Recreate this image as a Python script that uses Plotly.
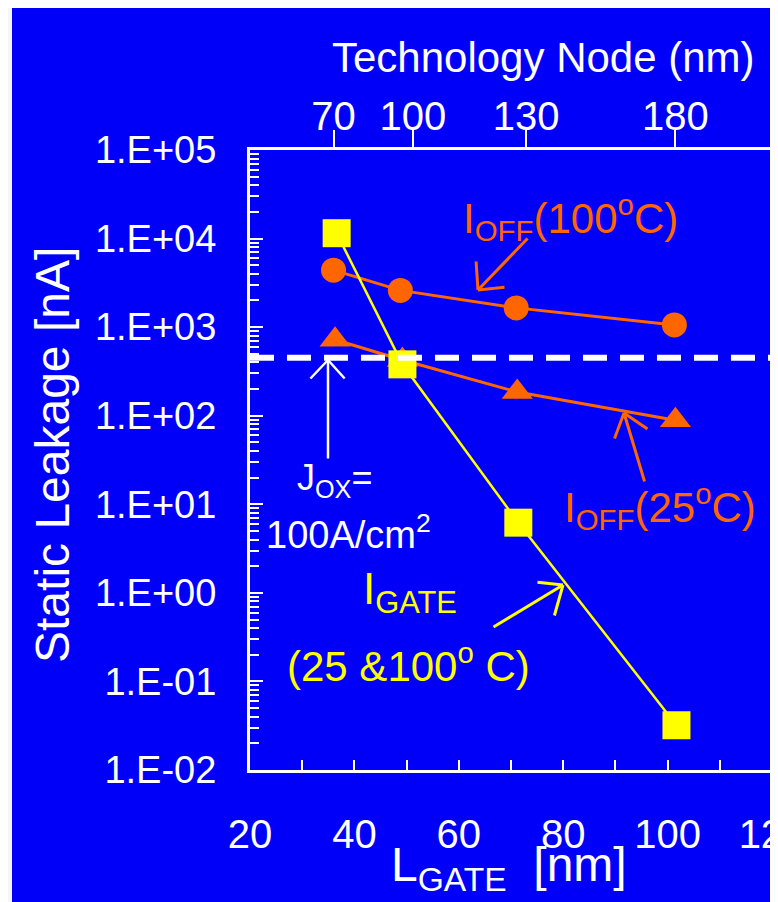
import plotly.graph_objects as go

# ---------------- data ----------------
lgate_igate = [36.6, 49.2, 71.4, 101.7]          # L_GATE [nm]
igate_nA = [11500, 380, 6.2, 0.032]               # I_GATE (25 & 100 C)

lgate_ioff100 = [36.0, 48.8, 71.0, 101.3]
ioff_100c_nA = [4400, 2600, 1650, 1060]           # I_OFF (100 C)

lgate_ioff25 = [36.3, 49.2, 71.2, 101.5]
ioff_25c_nA = [720, 425, 185, 89]                 # I_OFF (25 C)

jox_x = [20, 120]
jox_limit_nA = [450, 450]                         # J_OX = 100 A/cm2 level

y_tick_vals = [1e-2, 1e-1, 1e0, 1e1, 1e2, 1e3, 1e4, 1e5]
y_tick_text = ["1.E-02", "1.E-01", "1.E+00", "1.E+01", "1.E+02",
               "1.E+03", "1.E+04", "1.E+05"]
x_tick_vals = [20, 40, 60, 80, 100, 120]
x_minor_vals = [30, 50, 70, 90, 110]
node_positions = [36.0, 51.2, 72.9, 101.5]       # L_GATE of each node
node_labels = ["70", "100", "130", "180"]

# ---------------- styling ----------------
BLUE = "#0000FA"
ORANGE = "#FF6600"
YELLOW = "#FFFF00"
WHITE = "#FFFFFF"
FONT = "Liberation Sans, Arial, sans-serif"

OFF = 8                    # page body margin
W, H = 770, 894            # figure size (page is 778x902)
PL, PR, PT, PB = 250, 772, 150, 770   # plot-area box in page pixels


def px(xp):
    return (xp - PL) / (PR - PL)


def py(yp):
    return (PB - yp) / (PB - PT)


y_minor_vals = [m * 10 ** e for e in range(-2, 5) for m in range(2, 10)]

fig = go.Figure()

fig.add_trace(go.Scatter(
    x=jox_x, y=jox_limit_nA, mode="lines", xaxis="x2",
    line=dict(color=WHITE, width=6, dash="24px,13px"),
    showlegend=False, hoverinfo="skip"))

fig.add_trace(go.Scatter(
    x=lgate_ioff25, y=ioff_25c_nA, mode="lines+markers",
    line=dict(color=ORANGE, width=3),
    marker=dict(symbol="triangle-up", size=27, color=ORANGE),
    showlegend=False))

fig.add_trace(go.Scatter(
    x=lgate_ioff100, y=ioff_100c_nA, mode="lines+markers",
    line=dict(color=ORANGE, width=3),
    marker=dict(symbol="circle", size=25, color=ORANGE),
    showlegend=False))

fig.add_trace(go.Scatter(
    x=lgate_igate, y=igate_nA, mode="lines+markers",
    line=dict(color=YELLOW, width=2.5),
    marker=dict(symbol="square", size=28, color=YELLOW),
    showlegend=False))

annotations = []


def text(t, xc, yc, size, color, angle=0):
    annotations.append(dict(
        text=t, x=px(xc), y=py(yc), xref="paper", yref="paper",
        xanchor="center", yanchor="middle", showarrow=False,
        textangle=angle, font=dict(family=FONT, size=size, color=color)))


def arrow(tip, ends, color, width):
    for ex, ey in ends:
        annotations.append(dict(
            text="", x=px(tip[0]), y=py(tip[1]), xref="paper", yref="paper",
            ax=ex - tip[0], ay=ey - tip[1], showarrow=True, arrowhead=0,
            arrowwidth=width, arrowcolor=color, standoff=0))


text("Technology Node (nm)", 543, 57, 42, WHITE)
text("Static Leakage [nA]", 52, 455, 48, WHITE, angle=-90)
text("L<sub>GATE</sub>\u00a0\u00a0[nm]", 509, 868, 48, WHITE)
text("I<sub>OFF</sub>(100<sup>o</sup>C)", 570, 217, 42, ORANGE)
text("I<sub>OFF</sub>(25<sup>o</sup>C)", 660, 506, 42, ORANGE)
text("J<sub>OX</sub>=", 334, 480, 36, WHITE)
text("100A/cm<sup>2</sup>", 348, 532, 38, WHITE)
text("I<sub>GATE</sub>", 410, 592, 44, YELLOW)
text("(25 &amp;100<sup>o</sup> C)", 408, 663, 42, YELLOW)

arrow((478, 290), [(529, 237), (476, 260), (506, 287)], ORANGE, 3)
arrow((624, 413), [(645, 483), (614, 440), (649, 430)], ORANGE, 3)
arrow((563, 585), [(492, 628), (536, 582), (554, 617)], YELLOW, 3)
arrow((328, 360), [(328, 460), (309, 380), (346, 380)], WHITE, 2.5)

# thin white slide edge on the left
shapes = [
    dict(type="rect", xref="paper", yref="paper", x0=px(OFF - 2), x1=px(12),
         y0=py(H + 50), y1=py(0), fillcolor="#F6F6F8", line=dict(width=0)),
]

tickfont = dict(family=FONT, size=40, color=WHITE)

fig.update_layout(
    width=W, height=H,
    margin=dict(l=PL - OFF, r=W - (PR - OFF), t=PT - OFF, b=H - (PB - OFF),
                autoexpand=False),
    paper_bgcolor=BLUE, plot_bgcolor=BLUE,
    annotations=annotations, shapes=shapes,
    xaxis=dict(
        range=[20, 120], tickmode="array", tickvals=x_tick_vals,
        ticks="inside", ticklen=10, tickwidth=2, tickcolor=WHITE,
        minor=dict(tickmode="array", tickvals=x_minor_vals, ticks="inside",
                   ticklen=10, tickwidth=2, tickcolor=WHITE, showgrid=False),
        showline=True, linecolor=WHITE, linewidth=3, mirror=False,
        showgrid=False, zeroline=False, tickfont=tickfont,
        ticklabelstandoff=27, ticklabeloverflow="allow"),
    xaxis2=dict(
        range=[20, 120], overlaying="x", side="top", anchor="y",
        tickmode="array", tickvals=node_positions, ticktext=node_labels,
        ticks="outside", ticklen=17, tickwidth=2, tickcolor=WHITE,
        showline=True, linecolor=WHITE, linewidth=3,
        showgrid=False, zeroline=False, tickfont=tickfont,
        ticklabelstandoff=-16),
    yaxis=dict(
        type="log", range=[-2, 5], tickmode="array",
        tickvals=y_tick_vals, ticktext=y_tick_text,
        ticks="inside", ticklen=13, tickwidth=2, tickcolor=WHITE,
        minor=dict(tickmode="array", tickvals=y_minor_vals, ticks="inside",
                   ticklen=9, tickwidth=1.5, tickcolor=WHITE, showgrid=False),
        showline=True, linecolor=WHITE, linewidth=3, mirror=True,
        showgrid=False, zeroline=False,
        tickfont=dict(family=FONT, size=38, color=WHITE),
        ticklabelstandoff=23),
)

fig.write_html("out.html")
